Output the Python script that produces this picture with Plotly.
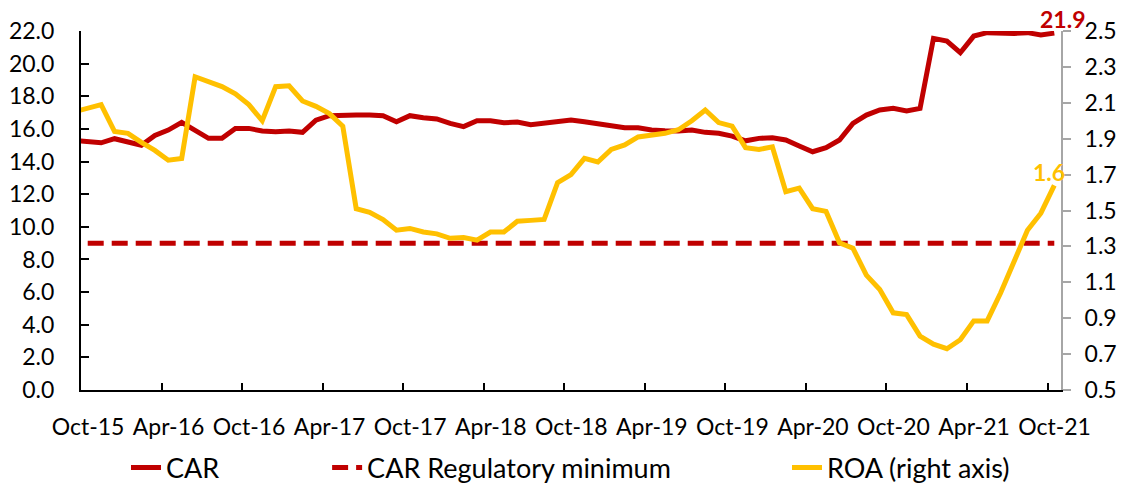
import numpy as np
import pandas as pd
import plotly.graph_objects as go

# Monthly categories (Sep-15 is only partially visible at the left edge)
months = list(pd.date_range("2015-09-01", "2021-10-01", freq="MS").strftime("%b-%y"))

car = [15.30, 15.20, 15.15, 15.40, 15.20, 15.00, 15.60, 15.93, 16.40, 15.93,
       15.42, 15.42, 16.03, 16.03, 15.87, 15.83, 15.87, 15.79, 16.54, 16.81,
       16.85, 16.85, 16.85, 16.81, 16.44, 16.81, 16.69, 16.61, 16.34, 16.14,
       16.50, 16.50, 16.38, 16.42, 16.26, 16.34, 16.44, 16.54, 16.44, 16.34,
       16.24, 16.07, 16.07, 15.93, 15.89, 15.87, 15.93, 15.79, 15.73, 15.56,
       15.27, 15.42, 15.46, 15.32, 14.95, 14.60, 14.85, 15.32, 16.34, 16.85,
       17.16, 17.26, 17.10, 17.26, 21.55, 21.38, 20.67, 21.69, 21.90, 21.85,
       21.85, 21.90, 21.75, 21.87]

roa = [2.05, 2.07, 2.09, 1.94, 1.93, 1.88, 1.835, 1.78, 1.79, 2.245,
       2.22, 2.19, 2.15, 2.09, 2.00, 2.19, 2.195, 2.11, 2.08, 2.04,
       1.97, 1.51, 1.49, 1.45, 1.39, 1.40, 1.38, 1.37, 1.345, 1.35,
       1.335, 1.38, 1.38, 1.44, 1.445, 1.45, 1.655, 1.70, 1.79, 1.77,
       1.84, 1.865, 1.91, 1.92, 1.93, 1.95, 2.00, 2.06, 1.99, 1.97,
       1.85, 1.84, 1.855, 1.605, 1.625, 1.51, 1.495, 1.32, 1.29, 1.14,
       1.06, 0.93, 0.92, 0.80, 0.755, 0.73, 0.78, 0.885, 0.885, 1.04,
       1.215, 1.39, 1.485, 1.64]

car_min_months = months[1:]          # Oct-15 .. Oct-21
car_min = [9.0] * len(car_min_months)

tick_labels = ["Oct-15", "Apr-16", "Oct-16", "Apr-17", "Oct-17", "Apr-18", "Oct-18",
               "Apr-19", "Oct-19", "Apr-20", "Oct-20", "Apr-21", "Oct-21"]
y2_ticks = [0.5, 0.7, 0.9, 1.1, 1.3, 1.5, 1.7, 1.9, 2.1, 2.3, 2.5]

# category positions (Oct-15 = 0)
origin = months.index("Oct-15")
pos = {m: i - origin for i, m in enumerate(months)}
x_all = [pos[m] for m in months]
x_min = [pos[m] for m in car_min_months]

RED = "#C00000"
YEL = "#FFC000"
FONT = "Lato"

fig = go.Figure()
fig.add_trace(go.Scatter(x=x_all, y=car, name="CAR", mode="lines", showlegend=True,
                         line=dict(color=RED, width=5), legend="legend"))
fig.add_trace(go.Scatter(x=x_min, y=car_min, name="CAR Regulatory minimum", mode="lines",
                         showlegend=True,
                         line=dict(color=RED, width=5, dash="16px,8px"), legend="legend2"))
fig.add_trace(go.Scatter(x=x_all, y=roa, name="ROA (right axis)", mode="lines", yaxis="y2",
                         showlegend=True,
                         line=dict(color=YEL, width=5), legend="legend3"))

n_cat = len(car_min_months)
tickvals = [pos[t] - 0.5 for t in tick_labels]

fig.add_annotation(x=pos[months[-1]], y=car[-1], xref="x", yref="y",
                   text=f"<b>{car[-1]:.1f}</b>", showarrow=False,
                   xanchor="center", yanchor="bottom", xshift=8, yshift=-2,
                   font=dict(family=FONT, size=23, color=RED))
fig.add_annotation(x=pos[months[-1]], y=roa[-1], xref="x", yref="y2",
                   text=f"<b>{roa[-1]:.1f}</b>", showarrow=False,
                   xanchor="center", yanchor="bottom", xshift=-5, yshift=-3,
                   font=dict(family=FONT, size=23, color=YEL))

legend_common = dict(orientation="h", xref="container", yref="container",
                     yanchor="middle", y=0.031, xanchor="left",
                     bgcolor="rgba(0,0,0,0)", font=dict(family=FONT, size=27, color="black"))

fig.update_layout(
    width=1128, height=483, showlegend=True,
    margin=dict(l=81, r=67, t=31, b=93, autoexpand=False),
    paper_bgcolor="white", plot_bgcolor="white",
    font=dict(family=FONT, size=23, color="black"),
    xaxis=dict(range=[-0.5, n_cat - 0.5], tickmode="array", tickvals=tickvals, ticktext=tick_labels,
               ticks="inside", ticklen=7, tickwidth=1.5, tickcolor="black",
               showline=True, linecolor="black", linewidth=2, automargin=False,
               showgrid=False, zeroline=False, ticklabelshift=7, ticklabelstandoff=15,
               tickfont=dict(family=FONT, size=23, color="black")),
    yaxis=dict(range=[0, 22], dtick=2, tick0=0, tickformat=".1f",
               ticks="inside", ticklen=8, tickwidth=1.5, tickcolor="black",
               showline=True, linecolor="black", linewidth=2, automargin=False,
               showgrid=False, zeroline=False, ticklabelstandoff=20,
               tickfont=dict(family=FONT, size=23, color="black")),
    yaxis2=dict(range=[0.5, 2.5], overlaying="y", side="right", tickmode="array",
                tickvals=y2_ticks, tickformat=".1f", automargin=False,
                ticks="outside", ticklen=8, tickwidth=1.5, tickcolor="#A6A6A6",
                showline=True, linecolor="#A6A6A6", linewidth=2,
                showgrid=False, zeroline=False, ticklabelstandoff=9,
                tickfont=dict(family=FONT, size=23, color="black")),
    legend=dict(x=0.1117, **legend_common),
    legend2=dict(x=0.2900, **legend_common),
    legend3=dict(x=0.6977, **legend_common),
)

fig.write_html("out.html", config={"displayModeBar": False},
               post_script="document.body.style.margin='0';document.body.style.overflow='hidden';")
